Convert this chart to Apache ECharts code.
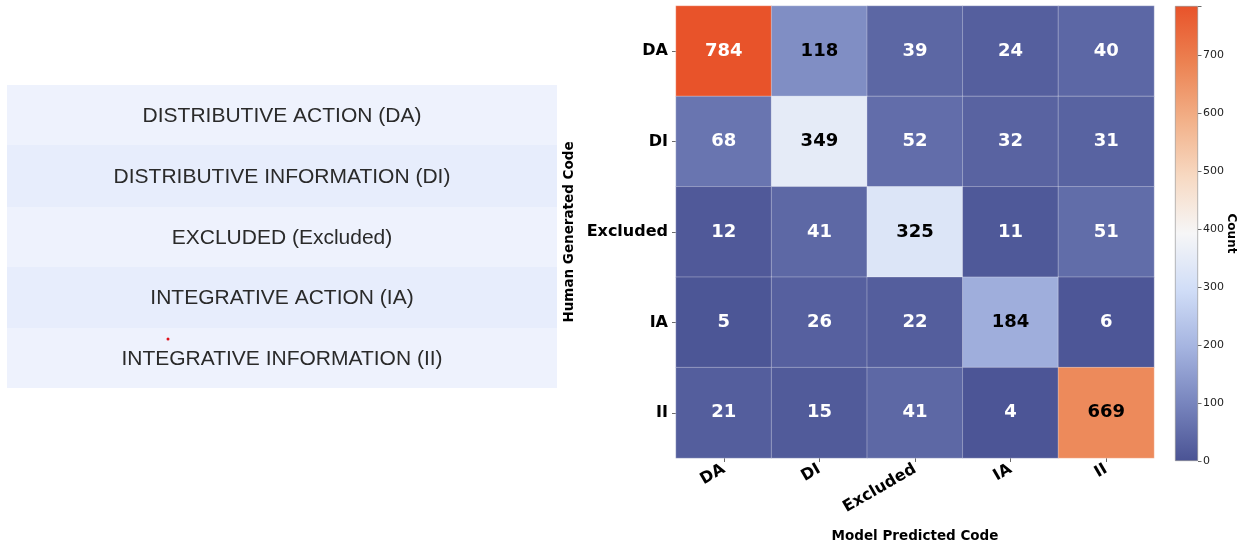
<!DOCTYPE html>
<html>
<head>
<meta charset="utf-8">
<script src="https://cdn.jsdelivr.net/npm/echarts@6/dist/echarts.min.js"></script>
<style>
  html, body { margin: 0; padding: 0; background: #ffffff; }
  #chart { width: 1245px; height: 548px; }
</style>
</head>
<body>
<div id="chart"></div>
<script>
// Category codes used on both axes
const codes = ['DA', 'DI', 'Excluded', 'IA', 'II'];

// Legend of code meanings shown beside the matrix
const codeNames = [
  'DISTRIBUTIVE ACTION (DA)',
  'DISTRIBUTIVE INFORMATION (DI)',
  'EXCLUDED (Excluded)',
  'INTEGRATIVE ACTION (IA)',
  'INTEGRATIVE INFORMATION (II)'
];

// Confusion counts: one row per human-generated code, columns are model-predicted codes
const rowDA = [784, 118, 39, 24, 40];
const rowDI = [68, 349, 52, 32, 31];
const rowExcluded = [12, 41, 325, 11, 51];
const rowIA = [5, 26, 22, 184, 6];
const rowII = [21, 15, 41, 4, 669];
const countRows = [rowDA, rowDI, rowExcluded, rowIA, rowII];

// Colour scale range and colorbar ticks
const scaleMin = 0;
const scaleMax = 784;
const colorbarTicks = [0, 100, 200, 300, 400, 500, 600, 700];

// Annotation text turns dark for mid-range counts, light at both ends of the scale
const darkTextLow = 100;
const darkTextHigh = 720;

// Diverging palette, evenly spaced from scaleMin to scaleMax
const palette = ['#4a5394', '#7784bd', '#a5b4e0', '#d0ddf7', '#f6f6f7',
                 '#f7d9c2', '#f2b088', '#ec8252', '#e8532a'];

const heatData = [];
countRows.forEach((row, r) => {
  row.forEach((v, c) => {
    const dark = v >= darkTextLow && v <= darkTextHigh;
    heatData.push({
      value: [c, r, v],
      label: { color: dark ? '#000000' : '#ffffff' }
    });
  });
});

const gradientStops = palette.map((c, i) => ({ offset: i / (palette.length - 1), color: c }));

// Left-hand legend table drawn as graphic rects and text
const tableGraphics = [];
const rowFills = ['#eef2fd', '#e7edfc', '#eef2fd', '#e7edfc', '#eef2fd'];
const rowTops = [85, 145, 207, 267, 328];
const rowBottoms = [145, 207, 267, 328, 388];
codeNames.forEach((name, i) => {
  tableGraphics.push({
    type: 'rect',
    shape: { x: 7, y: rowTops[i], width: 550, height: rowBottoms[i] - rowTops[i] },
    style: { fill: rowFills[i] },
    silent: true
  });
  tableGraphics.push({
    type: 'text',
    x: 282,
    y: (rowTops[i] + rowBottoms[i]) / 2 + 1,
    style: {
      text: name,
      fill: '#2a2a2a',
      font: '21px "Liberation Sans", Arial, sans-serif',
      textAlign: 'center',
      textVerticalAlign: 'middle'
    },
    silent: true
  });
});
tableGraphics.push({
  type: 'circle',
  shape: { cx: 168, cy: 339, r: 1.5 },
  style: { fill: '#e0101a' },
  silent: true
});

const chart = echarts.init(document.getElementById('chart'), null, { renderer: 'canvas' });

chart.setOption({
  backgroundColor: '#ffffff',
  animation: false,
  textStyle: { fontFamily: '"DejaVu Sans", sans-serif' },
  graphic: tableGraphics,
  grid: [
    { left: 676, top: 6, width: 478, height: 456 },
    { left: 1175, top: 6, width: 23, height: 455 }
  ],
  xAxis: [
    {
      gridIndex: 0,
      type: 'category',
      data: codes,
      name: 'Model Predicted Code',
      nameLocation: 'middle',
      nameGap: 71,
      nameMoveOverlap: false,
      nameTextStyle: { fontSize: 13.5, fontWeight: 'bold', color: '#000000' },
      axisLine: { show: false },
      axisTick: { show: true, alignWithLabel: true, length: 4, lineStyle: { color: '#444444', width: 0.8 } },
      axisLabel: { rotate: 30, fontSize: 16, fontWeight: 'bold', color: '#000000', margin: 10 },
      splitLine: { show: false }
    },
    {
      gridIndex: 1,
      type: 'category',
      data: ['c'],
      show: false
    }
  ],
  yAxis: [
    {
      gridIndex: 0,
      type: 'category',
      data: codes,
      inverse: true,
      name: 'Human Generated Code',
      nameLocation: 'middle',
      nameGap: 100,
      nameMoveOverlap: false,
      nameRotate: 90,
      nameTextStyle: { fontSize: 13.5, fontWeight: 'bold', color: '#000000' },
      axisLine: { show: false },
      axisTick: { show: true, alignWithLabel: true, length: 4, lineStyle: { color: '#444444', width: 0.8 } },
      axisLabel: { fontSize: 16, fontWeight: 'bold', color: '#000000', margin: 8 },
      splitLine: { show: false }
    },
    {
      gridIndex: 1,
      type: 'value',
      position: 'right',
      min: scaleMin,
      max: scaleMax,
      interval: 100,
      name: 'Count',
      nameLocation: 'middle',
      nameGap: 27,
      nameMoveOverlap: false,
      nameRotate: -90,
      nameTextStyle: { fontSize: 12, fontWeight: 'bold', color: '#000000' },
      axisLine: { show: false },
      axisTick: { show: true, length: 3.5, lineStyle: { color: '#444444', width: 0.8 } },
      axisLabel: { fontSize: 11, color: '#222222', margin: 5,
        formatter: v => (colorbarTicks.indexOf(v) >= 0 ? String(v) : '') },
      splitLine: { show: false }
    }
  ],
  visualMap: {
    show: false,
    type: 'continuous',
    seriesIndex: 0,
    min: scaleMin,
    max: scaleMax,
    dimension: 2,
    inRange: { color: palette }
  },
  series: [
    {
      type: 'heatmap',
      xAxisIndex: 0,
      yAxisIndex: 0,
      data: heatData,
      itemStyle: { borderColor: 'rgba(255,255,255,0.3)', borderWidth: 1 },
      label: { show: true, fontSize: 18, fontWeight: 'bold', formatter: p => p.value[2] },
      emphasis: { disabled: true }
    },
    {
      type: 'bar',
      xAxisIndex: 1,
      yAxisIndex: 1,
      data: [scaleMax],
      barWidth: '100%',
      itemStyle: {
        color: new echarts.graphic.LinearGradient(0, 1, 0, 0, gradientStops),
        borderColor: '#8a8a8a',
        borderWidth: 0.6
      },
      silent: true
    }
  ]
});
</script>
</body>
</html>
